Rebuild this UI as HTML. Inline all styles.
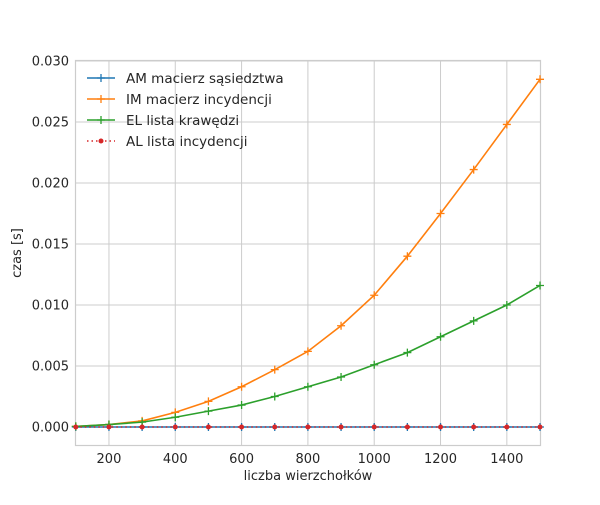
<!DOCTYPE html>
<html><head><meta charset="utf-8"><style>
body{margin:0;background:#fff}
svg text{font-family:"DejaVu Sans","Liberation Sans",sans-serif;fill:#262626}
</style></head><body>
<svg id="chart" width="600" height="500">
<g id="grid"></g>
<rect x="75.5" y="60.5" width="465" height="385" fill="none" stroke="#cccccc" stroke-width="1.2"/>
<g id="series"></g>
<g id="ticks"></g>
<text x="308" y="480" font-size="13" text-anchor="middle">liczba wierzchołków</text>
<text x="21" y="253" font-size="13" text-anchor="middle" transform="rotate(-90 21 253)">czas [s]</text>
<g id="legend"></g>
</svg>
<script>
const xs=[100,200,300,400,500,600,700,800,900,1000,1100,1200,1300,1400,1500];
const amVals=[0,0,0,0,0,0,0,0,0,0,0,0,0,0,0];
const imVals=[0.00005,0.0002,0.0005,0.0012,0.0021,0.0033,0.0047,0.0062,0.0083,0.0108,0.014,0.0175,0.0211,0.0248,0.0285];
const elVals=[0.00005,0.0002,0.0004,0.0008,0.0013,0.0018,0.0025,0.0033,0.0041,0.0051,0.0061,0.0074,0.0087,0.0100,0.0116];
const alVals=[0,0,0,0,0,0,0,0,0,0,0,0,0,0,0];
const xTicks=[200,400,600,800,1000,1200,1400];
const yTicks=[0,0.005,0.01,0.015,0.02,0.025,0.03];
const yTickLabels=["0.000","0.005","0.010","0.015","0.020","0.025","0.030"];
const seriesNames=["AM macierz sąsiedztwa","IM macierz incydencji","EL lista krawędzi","AL lista incydencji"];

const NS="http://www.w3.org/2000/svg";
const X=v=>75.8+(v-100)*(464.2/1400);
const Y=v=>427-v*12200;
function mk(t,a,p){const e=document.createElementNS(NS,t);for(const k in a)e.setAttribute(k,a[k]);p.appendChild(e);return e;}
const grid=document.getElementById('grid'),ticks=document.getElementById('ticks');
xTicks.forEach(v=>{
 const l=mk('line',{x1:X(v),x2:X(v),y1:60,y2:445,stroke:'#cccccc','stroke-width':1},grid);
 
 
 const t=mk('text',{x:X(v),y:463,'font-size':13,'text-anchor':'middle'},ticks);t.textContent=v;
 
 
});
yTicks.forEach((v,i)=>{
 const l=mk('line',{x1:75,x2:540,y1:Y(v),y2:Y(v),stroke:'#cccccc','stroke-width':1},grid);
 
 
 const t=mk('text',{x:69,y:Y(v)+4.5,'font-size':13,'text-anchor':'end'},ticks);t.textContent=yTickLabels[i];
 
 
});
const sg=document.getElementById('series');
function plus(g,x,y,c){mk('path',{d:`M${x-4},${y}H${x+4}M${x},${y-4}V${y+4}`,stroke:c,'stroke-width':1.3},g);}
function series(vals,c,name,dotted){
 const g=mk('g',{},sg);
 
 
 const pts=xs.map((x,i)=>X(x)+','+Y(vals[i])).join(' ');
 mk('polyline',{points:pts,fill:'none',stroke:c,'stroke-width':1.6,'stroke-dasharray':dotted?'1.5,3':'none'},g);
 xs.forEach((x,i)=>{ if(dotted) mk('circle',{cx:X(x),cy:Y(vals[i]),r:2.5,fill:c},g); else plus(g,X(x),Y(vals[i]),c);});
}
series(amVals,'#1f77b4','series-am',false);
series(imVals,'#ff7f0e','series-im',false);
series(elVals,'#2ca02c','series-el',false);
series(alVals,'#d62728','series-al',true);
const lg=document.getElementById('legend');
const cols=['#1f77b4','#ff7f0e','#2ca02c','#d62728'];
seriesNames.forEach((n,i)=>{
 const y=78+i*21;
 const g=mk('g',{},lg);
 
 
 if(i<3){mk('line',{x1:87,x2:115,y1:y,y2:y,stroke:cols[i],'stroke-width':1.6},g);plus(g,101,y,cols[i]);}
 else{mk('line',{x1:87,x2:115,y1:y,y2:y,stroke:cols[i],'stroke-width':1.6,'stroke-dasharray':'1.5,3'},g);mk('circle',{cx:101,cy:y,r:2.5,fill:cols[i]},g);}
 const t=mk('text',{x:126,y:y+5,'font-size':13.5},g);t.textContent=n;
});
</script>
</body></html>
